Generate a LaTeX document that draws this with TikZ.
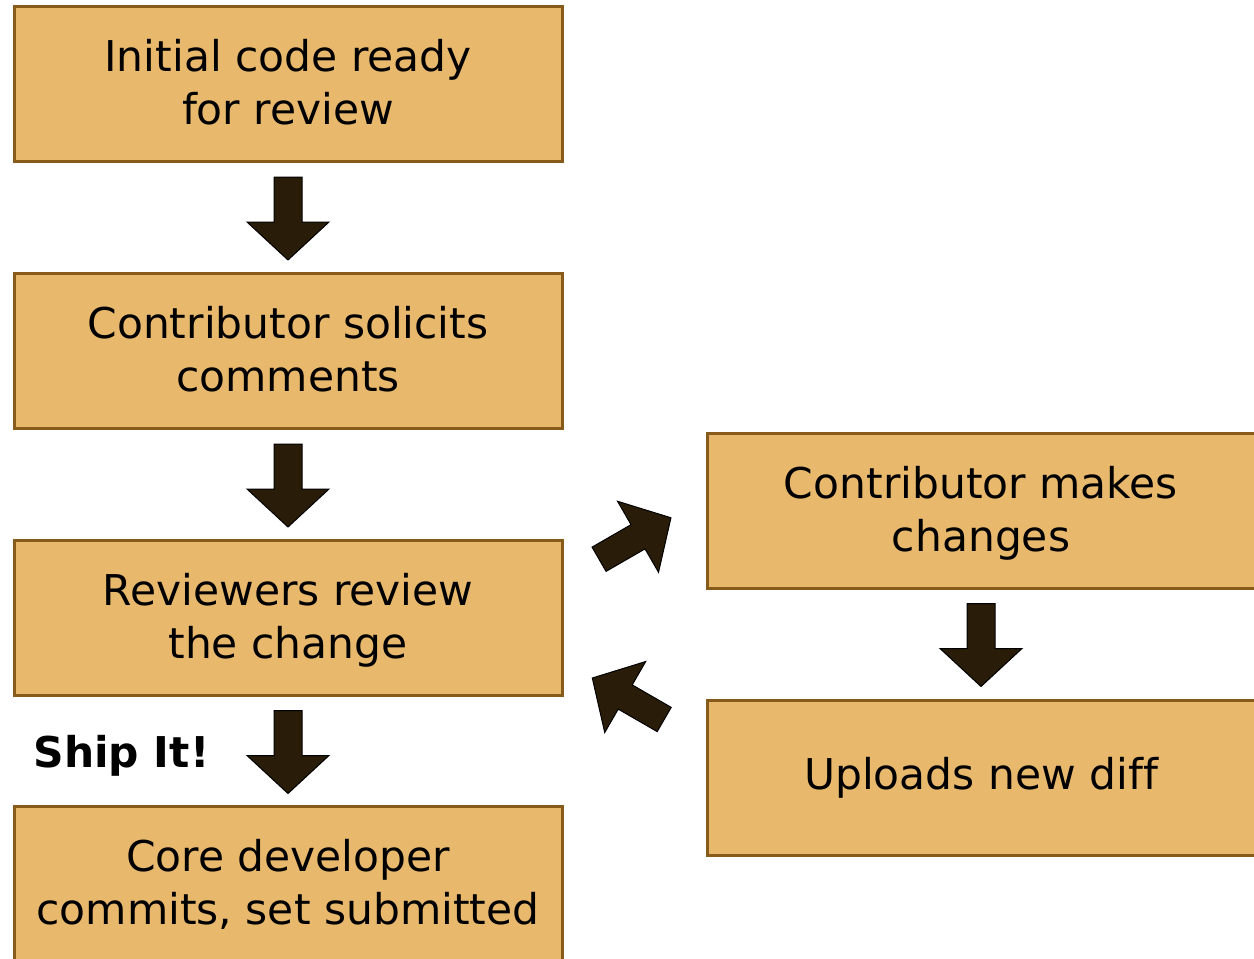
\documentclass[tikz,border=0pt]{standalone}
\usepackage{fontspec}
\setmainfont[Ligatures=NoCommon]{DejaVu Sans}
\usetikzlibrary{calc}
\definecolor{boxfill}{HTML}{E8B86D}
\definecolor{boxline}{HTML}{875B1B}
\definecolor{arrfill}{HTML}{291C08}
\newcommand\twolines[2]{\raisebox{-3.5pt}[\height][\depth]{\begin{tabular}{@{}c@{}}#1\\#2\end{tabular}}}
\begin{document}
\begin{tikzpicture}[x=1pt,y=1pt,
  stepbox/.style={draw=boxline,fill=boxfill,line width=3pt,minimum width=548pt,minimum height=155pt,inner sep=0pt,align=center,font=\fontsize{42.4}{53}\selectfont},
  blockarrow/.pic={\fill[arrfill,draw=black,line width=1pt,line join=miter] (-41.5,14) -- (3.5,14) -- (3.5,41) -- (41.5,0) -- (3.5,-41) -- (3.5,-14) -- (-41.5,-14) -- cycle;}
]
\useasboundingbox (0,0) rectangle (1254,-959);
\node[stepbox] (b1) at (288,-83.5) {\twolines{Initial code ready}{for review}};
\node[stepbox] (b2) at (288,-350.5) {\twolines{Contributor solicits}{comments}};
\node[stepbox] (b3) at (288,-617.5) {\twolines{Reviewers review}{the change}};
\node[stepbox] (b4) at (288,-883.5) {\twolines{Core developer}{commits, set submitted}};
\node[stepbox] (ra) at (981,-510.5) {\twolines{Contributor makes}{changes}};
\node[stepbox] (rb) at (981,-777.5) {Uploads new diff};
\node[font=\fontsize{42.4}{53}\selectfont\bfseries,inner sep=0pt] (ship) at (121.5,-756) {Ship It!};
\pic[rotate=-90] at ($(b1.south)!0.5!(b2.north)+(0,-1.5)$) {blockarrow};
\pic[rotate=-90] at ($(b2.south)!0.5!(b3.north)+(0,-1.5)$) {blockarrow};
\pic[rotate=-90] at ($(b3.south)!0.5!(b4.north)+(0,-1.5)$) {blockarrow};
\pic[rotate=-90] at ($(ra.south)!0.5!(rb.north)+(0,-1)$) {blockarrow};
\coordinate (up) at (635,-538.5);
\coordinate (dn) at (628.25,-698.75);
\pic[rotate=30] at (up) {blockarrow};
\pic[rotate=150] at (dn) {blockarrow};
\end{tikzpicture}
\end{document}
